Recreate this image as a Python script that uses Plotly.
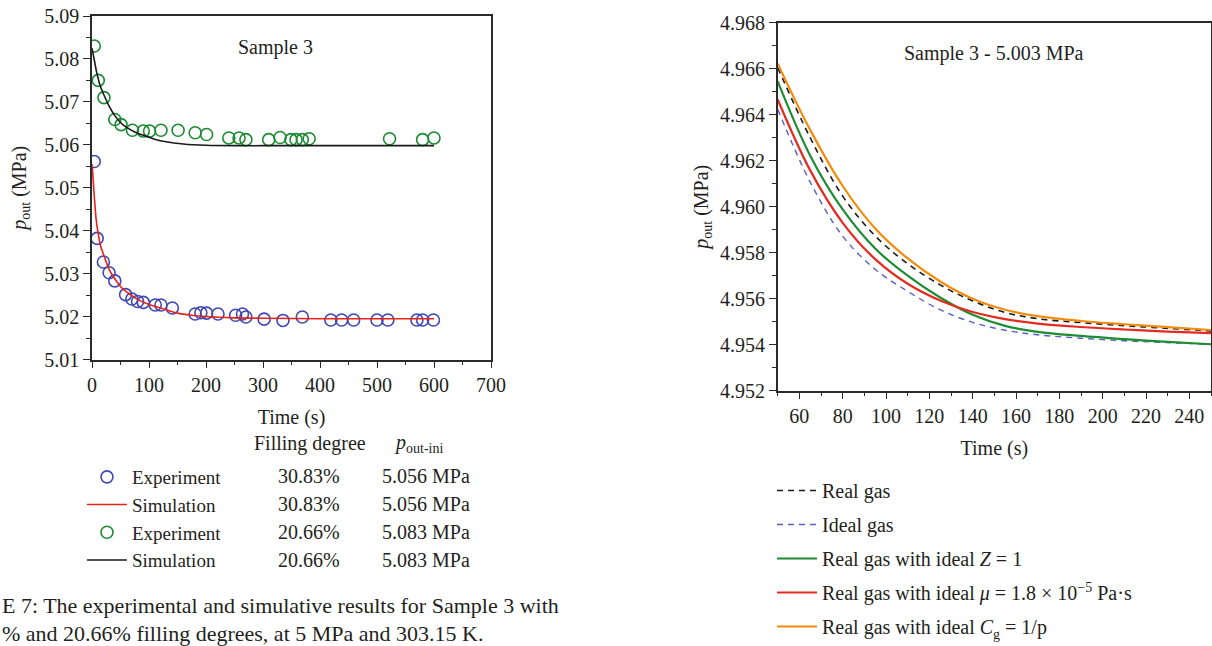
import plotly.graph_objects as go

# ---------------- data: left panel (Sample 3, two filling degrees) -------------
exp1_t = [4, 9, 20, 30, 40, 59, 70, 80, 90, 111, 121, 141, 181, 191, 201, 221, 252, 264, 270,
          302, 335, 369, 419, 438, 459, 500, 519, 570, 580, 599]
exp1_p = [5.0561, 5.0382, 5.0327, 5.0302, 5.0283, 5.0251, 5.0241, 5.0235, 5.0233, 5.0227,
          5.0227, 5.0220, 5.0206, 5.0209, 5.0208, 5.0206, 5.0203, 5.0206, 5.0199, 5.0194,
          5.0191, 5.0199, 5.0192, 5.0192, 5.0192, 5.0192, 5.0192, 5.0192, 5.0192, 5.0192]

sim1_t = [0, 2, 4, 7, 10, 15, 20, 30, 40, 50, 60, 80, 100, 125, 150, 175, 200, 250, 300, 400, 500, 600]
sim1_p = [5.0555, 5.0520, 5.0480, 5.0430, 5.0400, 5.0365, 5.0345, 5.0310, 5.0288, 5.0270, 5.0258,
          5.0240, 5.0228, 5.0218, 5.0208, 5.0203, 5.0200, 5.0197, 5.0196, 5.0195, 5.0195, 5.0195]

exp2_t = [4, 11, 21, 40, 51, 71, 90, 101, 121, 151, 181, 201, 240, 258, 270, 310, 330, 349,
          358, 369, 381, 522, 580, 600]
exp2_p = [5.0830, 5.0750, 5.0710, 5.0659, 5.0647, 5.0634, 5.0632, 5.0632, 5.0634, 5.0634,
          5.0628, 5.0624, 5.0616, 5.0616, 5.0612, 5.0612, 5.0617, 5.0612, 5.0612, 5.0612,
          5.0614, 5.0614, 5.0612, 5.0616]

sim2_t = [0, 3, 8, 15, 20, 30, 40, 50, 60, 75, 90, 110, 130, 160, 200, 250, 300, 400, 500, 600]
sim2_p = [5.0825, 5.0805, 5.0770, 5.0735, 5.0719, 5.0690, 5.0668, 5.0652, 5.0641, 5.0630,
          5.0622, 5.0613, 5.0607, 5.0602, 5.0599, 5.0598, 5.0598, 5.0598, 5.0598, 5.0598]

legend1_names = ["Experiment", "Simulation", "Experiment", "Simulation"]
legend1_fill = ["30.83%", "30.83%", "20.66%", "20.66%"]
legend1_pini = ["5.056 MPa", "5.056 MPa", "5.083 MPa", "5.083 MPa"]

# ---------------- data: right panel (Sample 3 - 5.003 MPa) -------------------
t_r = [50, 65, 80, 95, 110, 125, 140, 155, 170, 190, 210, 230, 250]
real_gas = [4.96605, 4.96300, 4.96046, 4.95873, 4.95752, 4.95660, 4.95590, 4.95540, 4.95513,
            4.95496, 4.95483, 4.95471, 4.95460]
ideal_gas = [4.96424, 4.96107, 4.95872, 4.95728, 4.95632, 4.95552, 4.95497, 4.95463, 4.95443,
             4.95428, 4.95417, 4.95409, 4.95402]
real_z1 = [4.96545, 4.96222, 4.95988, 4.95818, 4.95700, 4.95605, 4.95530, 4.95482, 4.95456,
           4.95438, 4.95424, 4.95412, 4.95402]
real_mu = [4.96466, 4.96158, 4.95930, 4.95772, 4.95665, 4.95592, 4.95542, 4.95511, 4.95492,
           4.95477, 4.95466, 4.95457, 4.95450]
real_cg = [4.96622, 4.96334, 4.96090, 4.95905, 4.95775, 4.95675, 4.95600, 4.95552, 4.95524,
           4.95503, 4.95489, 4.95476, 4.95464]

legend2_names = ["Real gas", "Ideal gas", "Real gas with ideal <i>Z</i> = 1",
                 "Real gas with ideal <i>μ</i> = 1.8 × 10<sup>−5</sup> Pa·s",
                 "Real gas with ideal <i>C</i><sub>g</sub> = 1/p"]

# ---------------- styling ------------------------------------------------------
FONT = "Liberation Serif"
TXT = "#231f20"
AX = "#2b2b2b"
BLUE = "#3f48b4"
RED = "#e5231b"
GREEN = "#1b8a32"
BLACK = "#1a1a1a"
ORANGE = "#f28c0f"
BLUE_D = "#5560c4"
GREEN_R = "#1d8c33"
RED_R = "#e42b20"

W, H = 1212, 646


def px_x(p):
    return p / W


def px_y(p):
    return 1 - p / H


fig = go.Figure()

# left panel
fig.add_trace(go.Scatter(x=exp1_t, y=exp1_p, mode="markers", name=legend1_names[0],
                         marker=dict(symbol="circle-open", size=12, color=BLUE,
                                     line=dict(width=1.6, color=BLUE)),
                         xaxis="x", yaxis="y", legend="legend", legendgroup="a"))
fig.add_trace(go.Scatter(x=sim1_t, y=sim1_p, mode="lines", name=legend1_names[1],
                         line=dict(color=RED, width=1.6, shape="spline", smoothing=0.6),
                         xaxis="x", yaxis="y", legend="legend", legendgroup="b"))
fig.add_trace(go.Scatter(x=exp2_t, y=exp2_p, mode="markers", name=legend1_names[2],
                         marker=dict(symbol="circle-open", size=12, color=GREEN,
                                     line=dict(width=1.6, color=GREEN)),
                         xaxis="x", yaxis="y", legend="legend", legendgroup="c"))
fig.add_trace(go.Scatter(x=sim2_t, y=sim2_p, mode="lines", name=legend1_names[3],
                         line=dict(color=BLACK, width=1.6, shape="spline", smoothing=0.6),
                         xaxis="x", yaxis="y", legend="legend", legendgroup="d"))

# right panel
right_series = [
    (real_gas, BLACK, "6px,5px", 1.6),
    (ideal_gas, BLUE_D, "6px,5px", 1.4),
    (real_z1, GREEN_R, "solid", 2.2),
    (real_mu, RED_R, "solid", 2.2),
    (real_cg, ORANGE, "solid", 2.2),
]
for i, (vals, col, dash, w) in enumerate(right_series):
    fig.add_trace(go.Scatter(x=t_r, y=vals, mode="lines", name=legend2_names[i],
                             line=dict(color=col, width=w, dash=dash, shape="spline", smoothing=1.0),
                             xaxis="x2", yaxis="y2", legend="legend2", legendgroup="r%d" % i))

axis_common = dict(showline=True, mirror=True, linecolor=AX, linewidth=1.5, ticks="outside",
                   ticklen=7, tickwidth=1.3, tickcolor=AX, showgrid=False, zeroline=False,
                   automargin=False,
                   tickfont=dict(family=FONT, size=20, color=TXT),
                   title_font=dict(family=FONT, size=20, color=TXT))

fig.update_layout(
    template="none",
    width=W, height=H, autosize=False,
    margin=dict(l=0, r=0, t=0, b=0, pad=0),
    paper_bgcolor="white", plot_bgcolor="white",
    font=dict(family=FONT, size=20, color=TXT),
    showlegend=True,
    xaxis=dict(domain=[px_x(92), px_x(491)], range=[0, 700], anchor="y", tick0=0, dtick=100,
               minor=dict(dtick=50, ticklen=4, tickcolor=AX, ticks="outside"),
               title=dict(text="Time (s)", standoff=15), **axis_common),
    yaxis=dict(domain=[px_y(359.5), px_y(16)], range=[5.01, 5.09], anchor="x", tick0=5.01,
               dtick=0.01, tickformat=".2f",
               minor=dict(dtick=0.005, ticklen=4, tickcolor=AX, ticks="outside"),
               title=dict(text="<i>p</i><sub>out</sub> (MPa)", standoff=12), **axis_common),
    xaxis2=dict(domain=[px_x(777.7), px_x(1211)], range=[50, 250], anchor="y2", tick0=60,
                dtick=20, minor=dict(dtick=10, ticklen=4, tickcolor=AX, ticks="outside"),
                title=dict(text="Time (s)", standoff=15), **axis_common),
    yaxis2=dict(domain=[px_y(390.7), px_y(22.7)], range=[4.952, 4.968], anchor="x2",
                tick0=4.952, dtick=0.002, tickformat=".3f",
                minor=dict(dtick=0.001, ticklen=4, tickcolor=AX, ticks="outside"),
                title=dict(text="<i>p</i><sub>out</sub> (MPa)", standoff=6), **axis_common),
    legend=dict(x=px_x(82), y=px_y(458), xanchor="left", yanchor="top",
                font=dict(family=FONT, size=19, color=TXT), bgcolor="rgba(0,0,0,0)",
                traceorder="grouped", tracegroupgap=0, itemwidth=40, borderwidth=0),
    legend2=dict(x=px_x(772), y=0, xanchor="left", yanchor="bottom",
                 font=dict(family=FONT, size=20, color=TXT), bgcolor="rgba(0,0,0,0)",
                 traceorder="grouped", tracegroupgap=5, itemwidth=40, borderwidth=0),
)

annotations = [
    dict(text="Sample 3", x=px_x(275), y=px_y(48)),
    dict(text="Sample 3 - 5.003 MPa", x=px_x(994), y=px_y(53)),
    dict(text="Filling degree", x=px_x(310), y=px_y(443)),
    dict(text="<i>p</i><sub>out-ini</sub>", x=px_x(392), y=px_y(443), xanchor="left"),
    dict(text="E 7: The experimental and simulative results for Sample 3 with", x=0,
         y=px_y(605), xanchor="left", font=dict(family=FONT, size=22, color=TXT)),
    dict(text="% and 20.66% filling degrees, at 5 MPa and 303.15 K.", x=0,
         y=px_y(633), xanchor="left", font=dict(family=FONT, size=22, color=TXT)),
]
row_y = [476, 504, 532, 560]
for i, ry in enumerate(row_y):
    annotations.append(dict(text=legend1_fill[i], x=px_x(309), y=px_y(ry)))
    annotations.append(dict(text=legend1_pini[i], x=px_x(380), y=px_y(ry), xanchor="left"))
for a in annotations:
    a.setdefault("xanchor", "center")
    a.setdefault("yanchor", "middle")
    a.setdefault("font", dict(family=FONT, size=20, color=TXT))
    a.update(xref="paper", yref="paper", showarrow=False)
fig.update_layout(annotations=annotations)

fig.write_html("out.html")
